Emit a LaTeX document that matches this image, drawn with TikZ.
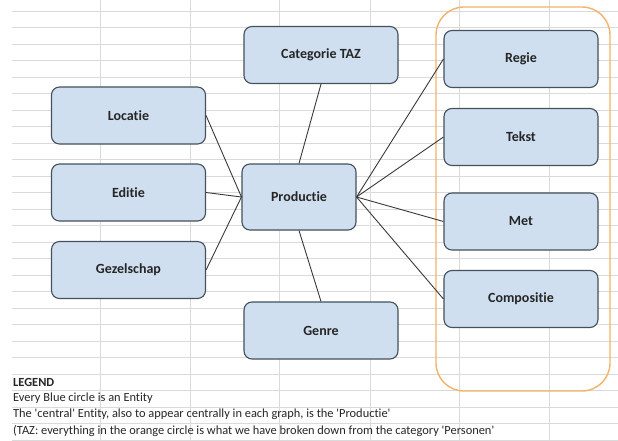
\documentclass[tikz,border=0pt]{standalone}
\usepackage{fontspec}
\setmainfont{Carlito}[Ligatures={NoCommon,TeXOff}]
\definecolor{boxfill}{HTML}{CFDFF0}
\definecolor{boxline}{HTML}{44505C}
\definecolor{gridc}{HTML}{DADADA}
\definecolor{orangec}{HTML}{F4B36A}
\definecolor{linkc}{HTML}{3A3A3A}
\tikzset{
  entity/.style={draw=boxline, fill=boxfill, line width=1.1pt, rounded corners=8pt,
    minimum width=154pt, minimum height=57pt, inner sep=0pt,
    font=\fontsize{14}{16}\selectfont\bfseries, text=black!85},
  link/.style={draw=linkc, line width=0.9pt},
  gridline/.style={draw=gridc, line width=0.9pt},
  legendtext/.style={anchor=west, inner sep=0pt, font=\fontsize{12.4}{14}\selectfont, text=black!85}
}
\begin{document}
\begin{tikzpicture}[x=1pt,y=-1pt]
\useasboundingbox (0,0) rectangle (618,441);
\fill[white] (0,0) rectangle (618,441);
% spreadsheet grid
\foreach \k in {0,...,26}{
  \draw[gridline] (12,{11+16.5*\k}) -- (618,{11+16.5*\k});
}
\foreach \xx in {100,190,279,370,459,549}{
  \draw[gridline] (\xx,0) -- (\xx,441);
}
% orange group
\draw[draw=orangec, line width=1.4pt, rounded corners=28pt] (436,7) rectangle (610,391);
% entities
\node[entity] (loc) at (128.5,115.5) {Locatie};
\node[entity] (edi) at (128.5,192.5) {Editie};
\node[entity] (gez) at (128.5,270) {Gezelschap};
\node[entity] (cat) at (321,55) {Categorie TAZ};
\node[entity, minimum width=114pt, minimum height=66pt] (prod) at (299,197) {Productie};
\node[entity] (gen) at (321,330.5) {Genre};
\node[entity] (reg) at (521,59) {Regie};
\node[entity] (tek) at (521,137) {Tekst};
\node[entity] (met) at (521,221.5) {Met};
\node[entity] (com) at (521,299) {Compositie};
% connectors
\draw[link] (loc.east) -- (prod.west);
\draw[link] (edi.east) -- (prod.west);
\draw[link] (gez.east) -- (prod.west);
\draw[link] (cat.south) -- (prod.north);
\draw[link] (gen.north) -- (prod.south);
\draw[link] (prod.east) -- (reg.west);
\draw[link] (prod.east) -- (tek.west);
\draw[link] (prod.east) -- (met.west);
\draw[link] (prod.east) -- (com.west);
% legend
\node[legendtext, font=\fontsize{12.4}{14}\selectfont\bfseries] (lg0) at (13,382) {LEGEND};
\node[legendtext] (lg1) at (13,398.5) {Every Blue circle is an Entity};
\node[legendtext] (lg2) at (13,414.5) {The 'central' Entity, also to appear centrally in each graph, is the 'Productie'};
\node[legendtext] (lg3) at (13,431) {(TAZ: everything in the orange circle is what we have broken down from the category 'Personen'};
\end{tikzpicture}
\end{document}
